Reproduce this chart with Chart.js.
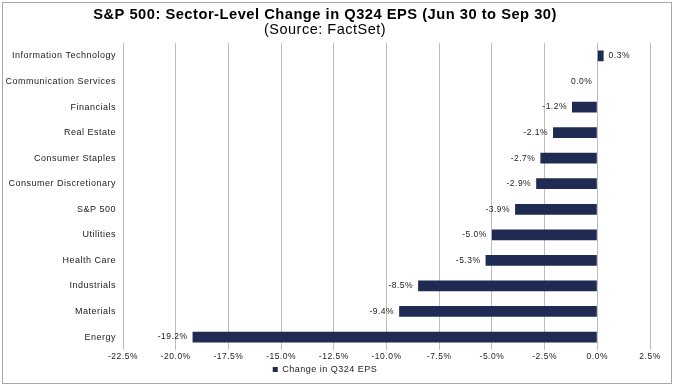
<!DOCTYPE html>
<html><head><meta charset="utf-8">
<script src="https://cdn.jsdelivr.net/npm/chart.js@4/dist/chart.umd.min.js"></script>
<style>
html,body{margin:0;padding:0;background:#fff;}
#frame{position:absolute;left:2px;top:2px;width:668px;height:380px;border:1px solid #a6a6a6;}
#wrap{position:absolute;left:0;top:0;width:674px;height:387px;}
</style></head>
<body>
<div id="frame"></div>
<div id="wrap"><canvas id="c" width="674" height="387"></canvas></div>
<script>
const categories = ["Information Technology","Communication Services","Financials","Real Estate","Consumer Staples","Consumer Discretionary","S&P 500","Utilities","Health Care","Industrials","Materials","Energy"];
const epsChange = [0.3, 0.0, -1.2, -2.1, -2.7, -2.9, -3.9, -5.0, -5.3, -8.5, -9.4, -19.2];
const seriesName = "Change in Q324 EPS";
const titleText = "S&P 500: Sector-Level Change in Q324 EPS (Jun 30 to Sep 30)";
const subtitleText = "(Source: FactSet)";
const xMin = -22.5, xMax = 2.5, xStep = 2.5;

const FONT = "'Liberation Sans', Arial, sans-serif";
const barColor = "#1f2b52";
const SPACING = "0.5px";

const spacingPlugin = {
  id: 'spacing',
  beforeUpdate(chart) { chart.ctx.letterSpacing = SPACING; },
  beforeLayout(chart) { chart.ctx.letterSpacing = SPACING; },
  beforeDraw(chart) { chart.ctx.letterSpacing = SPACING; }
};

const labelPlugin = {
  id: 'barLabels',
  afterDatasetsDraw(chart) {
    const ctx = chart.ctx;
    const meta = chart.getDatasetMeta(0);
    ctx.save();
    ctx.letterSpacing = SPACING;
    ctx.font = "8.5px " + FONT;
    ctx.fillStyle = "#222";
    ctx.textBaseline = "middle";
    meta.data.forEach((bar, i) => {
      const v = epsChange[i];
      const txt = v.toFixed(1) + "%";
      if (v > 0) { ctx.textAlign = "left"; ctx.fillText(txt, bar.x + 5, bar.y); }
      else { ctx.textAlign = "right"; ctx.fillText(txt, bar.x - 5, bar.y); }
    });
    ctx.restore();
  }
};

new Chart(document.getElementById('c'), {
  type: 'bar',
  data: {
    labels: categories,
    datasets: [{
      label: seriesName,
      data: epsChange,
      backgroundColor: barColor,
      borderWidth: 0,
      barPercentage: 0.42,
      categoryPercentage: 1.0
    }]
  },
  options: {
    indexAxis: 'y',
    responsive: false,
    animation: false,
    layout: { padding: { left: 0, right: 24, top: 0, bottom: 3 } },
    plugins: {
      title: { display: true, text: titleText, color: "#000", font: { family: FONT, size: 14.7, weight: 'bold', lineHeight: 1.0 }, padding: { top: 8, bottom: 0 } },
      subtitle: { display: true, text: subtitleText, color: "#000", font: { family: FONT, size: 14.5, lineHeight: 1.0 }, padding: { top: 0, bottom: 6 } },
      legend: { display: true, position: 'bottom', labels: { boxWidth: 5, boxHeight: 5, color: "#222", font: { family: FONT, size: 9 }, padding: 1 } },
      tooltip: { enabled: false }
    },
    scales: {
      x: {
        min: xMin, max: xMax,
        ticks: { stepSize: xStep, color: "#222", font: { family: FONT, size: 8.5 }, callback: v => v.toFixed(1) + "%", maxRotation: 0, padding: 2 },
        grid: { color: "#bdbdbd", lineWidth: 1, tickLength: 0, drawOnChartArea: true },
        border: { display: false }
      },
      y: {
        afterFit(scale) { scale.width = 123; },
        ticks: { color: "#222", font: { family: FONT, size: 9 }, padding: 7 },
        grid: { display: false, drawTicks: false },
        border: { display: false }
      }
    }
  },
  plugins: [spacingPlugin, labelPlugin]
});
</script>
</body></html>
